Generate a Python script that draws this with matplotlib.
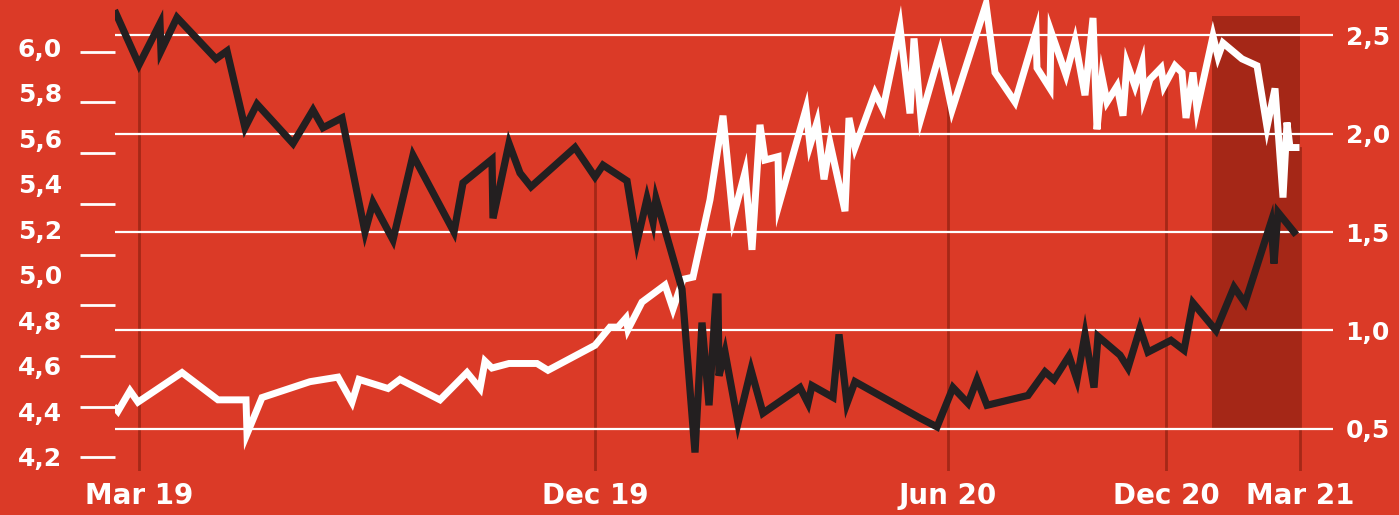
import matplotlib.pyplot as plt
import numpy as np

# x is a position index along the chart (Mar 19 = 0)
x_tick_pos = [0, 456, 809, 1027, 1161]
x_tick_labels = ["Mar 19", "Dec 19", "Jun 20", "Dec 20", "Mar 21"]

# black line, right axis
black_t = [-23, 0, 21, 22, 38, 77, 88, 106, 118, 154, 174, 184, 203, 226, 234, 254,
           274, 315, 324, 353, 354, 370, 381, 392, 436, 456, 464, 488, 498, 508, 514,
           517, 543, 556, 563, 570, 577, 579, 580, 586, 599, 612, 624, 661, 669, 673,
           694, 700, 708, 716, 781, 798, 814, 829, 838, 848, 889, 906, 915, 930, 938,
           946, 955, 959, 981, 989, 1001, 1009, 1032, 1045, 1054, 1077, 1095, 1106,
           1132, 1135, 1139, 1155]
black_v = [2.61, 2.35, 2.56, 2.42, 2.59, 2.38, 2.42, 2.03, 2.15, 1.95, 2.12, 2.03, 2.08,
           1.50, 1.65, 1.46, 1.89, 1.50, 1.75, 1.87, 1.57, 1.95, 1.80, 1.73, 1.93, 1.78,
           1.84, 1.76, 1.45, 1.67, 1.55, 1.67, 1.21, 0.38, 1.04, 0.62, 1.17, 1.17, 0.77,
           0.89, 0.53, 0.80, 0.58, 0.71, 0.63, 0.72, 0.66, 0.98, 0.63, 0.74, 0.555, 0.51,
           0.71, 0.63, 0.75, 0.62, 0.67, 0.79, 0.75, 0.87, 0.75, 0.98, 0.71, 0.97, 0.875,
           0.81, 1.01, 0.89, 0.95, 0.90, 1.14, 1.00, 1.22, 1.14, 1.55, 1.34, 1.60, 1.50]

# white line, left axis
white_t = [-23, -21, -9, -1, 43, 79, 107, 108, 123, 171, 199, 213, 220, 249, 261, 301,
           328, 341, 346, 353, 370, 398, 409, 456, 471, 479, 487, 489, 503, 526, 534,
           544, 554, 571, 584, 594, 606, 613, 621, 626, 639, 640, 667, 671, 678, 685,
           691, 706, 710, 716, 736, 744, 761, 771, 775, 782, 801, 813, 847, 856, 876,
           897, 898, 911, 912, 927, 936, 946, 954, 958, 963, 968, 978, 984, 988, 996,
           1003, 1005, 1011, 1022, 1025, 1036, 1043, 1047, 1054, 1058, 1074, 1079,
           1084, 1103, 1118, 1128, 1136, 1144, 1148, 1151, 1157]
white_v = [4.41, 4.40, 4.49, 4.44, 4.57, 4.45, 4.45, 4.30, 4.46, 4.53, 4.55, 4.44, 4.54,
           4.50, 4.54, 4.45, 4.57, 4.50, 4.62, 4.59, 4.61, 4.61, 4.58, 4.69, 4.77, 4.77,
           4.81, 4.76, 4.88, 4.955, 4.85, 4.98, 4.99, 5.33, 5.70, 5.25, 5.45, 5.11, 5.66,
           5.505, 5.52, 5.31, 5.73, 5.57, 5.67, 5.42, 5.58, 5.28, 5.69, 5.56, 5.80, 5.73,
           6.09, 5.71, 6.04, 5.69, 5.98, 5.725, 6.19, 5.89, 5.76, 6.07, 5.91, 5.82, 6.07,
           5.88, 6.03, 5.79, 6.13, 5.64, 5.87, 5.76, 5.83, 5.70, 5.93, 5.83, 5.93, 5.78,
           5.86, 5.91, 5.83, 5.92, 5.89, 5.69, 5.89, 5.73, 6.05, 5.96, 6.02, 5.95, 5.92,
           5.65, 5.82, 5.34, 5.67, 5.56, 5.56]

left_labels = [6.0, 5.8, 5.6, 5.4, 5.2, 5.0, 4.8, 4.6, 4.4, 4.2]
right_labels = [0.5, 1.0, 1.5, 2.0, 2.5]

# shaded period
shade_t = (1073, 1161)
shade_v = (0.5, 2.60)

BG = "#DB3A27"
DARK = "#A52817"
INK = "#231F20"

l_lo, l_hi = 4.137, 6.209
r_lo, r_hi = 0.286, 2.679

plt.rcParams['font.family'] = ['DejaVu Sans']
plt.rcParams['font.weight'] = 'bold'

fig = plt.figure(figsize=(13.99, 5.15), dpi=100, facecolor=BG)
ax = fig.add_axes([115 / 1399, 44 / 515, 1218 / 1399, 471 / 515])
ax.set_facecolor(BG)
ax2 = ax.twinx()

ax.set_xlim(-24, 1194)
ax.set_ylim(l_lo, l_hi)
ax2.set_ylim(r_lo, r_hi)

for a in (ax, ax2):
    for s in a.spines.values():
        s.set_visible(False)

# shaded box (on the left axes so both lines sit above it)
f0 = (shade_v[0] - r_lo) / (r_hi - r_lo)
f1 = (shade_v[1] - r_lo) / (r_hi - r_lo)
ax.axvspan(shade_t[0], shade_t[1], ymin=f0, ymax=f1, color="#A52717", lw=0, zorder=0)

# vertical date lines up to the upper line
for t in x_tick_pos:
    fb = (np.interp(t, black_t, black_v) - r_lo) / (r_hi - r_lo)
    fw = (np.interp(t, white_t, white_v) - l_lo) / (l_hi - l_lo)
    ax.axvline(t, ymin=0, ymax=max(fb, fw), color=DARK, lw=2, zorder=1)

ax.plot(white_t, white_v, color="white", lw=5, solid_joinstyle='miter', zorder=3)

# right axis: grid + black line
ax2.set_yticks(right_labels)
ax2.set_yticklabels([f"{v:.1f}".replace(".", ",") for v in right_labels])
ax2.set_axisbelow(True)
ax2.grid(axis='y', color="white", lw=1.6)
ax2.grid(axis='x', visible=False)
ax2.tick_params(axis='y', length=0, pad=9, labelsize=18, labelcolor="white")
ax2.plot(black_t, black_v, color=INK, lw=5.2, solid_joinstyle='miter', zorder=3)

# left axis: labels + dashes (dashes are spaced differently from the labels)
ax.set_yticks(left_labels)
ax.set_yticklabels([f"{v:.1f}".replace(".", ",") for v in left_labels])
ax.tick_params(axis='y', which='major', length=0, pad=38, labelsize=18, labelcolor="white")
ax.set_yticks(np.linspace(5.9815, 4.197, 9), minor=True)
ax.tick_params(axis='y', which='minor', length=25, width=2, color="white", direction='out')

ax.set_xticks(x_tick_pos)
ax.set_xticklabels(x_tick_labels)
ax.tick_params(axis='x', length=0, pad=8, labelsize=20, labelcolor="white")

fig.savefig("out.png", dpi=100, facecolor=BG)
